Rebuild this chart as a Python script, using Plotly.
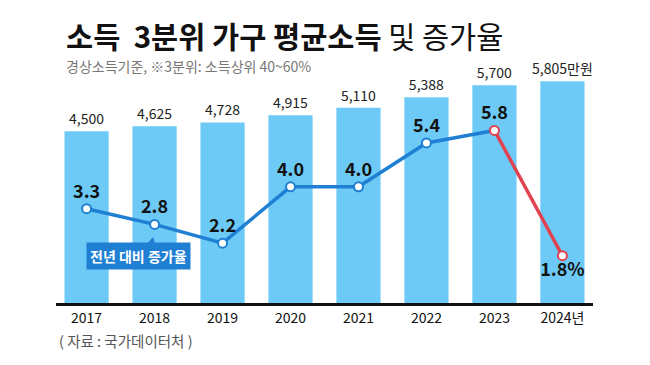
import plotly.graph_objects as go

years = ["2017", "2018", "2019", "2020", "2021", "2022", "2023", "2024"]
year_labels = ["2017", "2018", "2019", "2020", "2021", "2022", "2023", "2024년"]
income = [4500, 4625, 4728, 4915, 5110, 5388, 5700, 5805]
income_labels = ["4,500", "4,625", "4,728", "4,915", "5,110", "5,388", "5,700", "5,805만원"]
growth = [3.3, 2.8, 2.2, 4.0, 4.0, 5.4, 5.8, 1.8]
growth_labels = ["3.3", "2.8", "2.2", "4.0", "4.0", "5.4", "5.8", "1.8%"]

FONT = "Noto Sans CJK KR"
BAR = "#6dcaf6"
BLUE = "#1e7fd3"
RED = "#e0434f"

# page body has an 8px margin; work in page pixels and convert
OFF = 8
W, H = 650 - OFF, 365 - OFF
PL, PR, PT, PB = 56, 593, 75, 303  # plot area in page pixels

xs = list(range(len(years)))

fig = go.Figure()
fig.add_trace(go.Bar(
    x=xs, y=income, width=0.65, marker=dict(color=BAR, line=dict(width=0)),
    text=income_labels, textposition="outside", cliponaxis=False, constraintext="none",
    textfont=dict(family=FONT, size=14, color="#222"), hoverinfo="skip",
))
fig.add_trace(go.Scatter(
    x=xs[:7], y=growth[:7], yaxis="y2", mode="lines",
    line=dict(color=BLUE, width=3.5), hoverinfo="skip", cliponaxis=False,
))
fig.add_trace(go.Scatter(
    x=xs[6:], y=growth[6:], yaxis="y2", mode="lines",
    line=dict(color=RED, width=3.5), hoverinfo="skip", cliponaxis=False,
))
marker_colors = [BLUE] * 6 + [RED, RED]
text_pos = ["top center"] * 7 + ["bottom center"]
fig.add_trace(go.Scatter(
    x=xs, y=growth, yaxis="y2", mode="markers+text",
    marker=dict(size=9, color="white", line=dict(color=marker_colors, width=2)),
    text=growth_labels, textposition=text_pos,
    textfont=dict(family=FONT, size=18, color="#111", weight="bold"),
    hoverinfo="skip", cliponaxis=False,
))

fig.update_layout(
    width=W, height=H,
    margin=dict(l=PL - OFF, r=650 - PR, t=PT - OFF, b=365 - PB),
    paper_bgcolor="white", plot_bgcolor="white",
    showlegend=False,
    xaxis=dict(
        range=[-0.45, 7.45], tickmode="array", tickvals=xs, ticktext=year_labels,
        showline=True, linecolor="#111", linewidth=2.5, showgrid=False, zeroline=False,
        ticks="", tickfont=dict(family=FONT, size=14, color="#111"),
    ),
    yaxis=dict(range=[0, 5970], visible=False, showgrid=False, zeroline=False),
    yaxis2=dict(range=[0.29, 7.57], overlaying="y", visible=False, showgrid=False, zeroline=False),
    font=dict(family=FONT),
)

def px(xp):
    return (xp - PL) / (PR - PL)

def py(yp):
    return (PB - yp) / (PB - PT)

annotations = [
    dict(text="<b>소득&nbsp; 3분위 가구 평균소득</b> 및 증가율", xref="paper", yref="paper",
         x=px(64), y=py(35), xanchor="left", yanchor="middle",
         showarrow=False, font=dict(family=FONT, size=29.5, color="#111")),
    dict(text="경상소득기준, ※3분위: 소득상위 40~60%", xref="paper", yref="paper",
         x=px(64), y=py(66), xanchor="left", yanchor="middle",
         showarrow=False, font=dict(family=FONT, size=14, color="#777")),
    dict(text="( 자료 : 국가데이터처 )", xref="paper", yref="paper",
         x=px(57), y=py(340), xanchor="left", yanchor="middle",
         showarrow=False, font=dict(family=FONT, size=14.5, color="#555")),
    dict(text="<b>전년 대비 증가율</b>", xref="paper", yref="paper",
         x=px(138.5), y=py(256), xanchor="center", yanchor="middle",
         showarrow=False, bgcolor=BLUE, borderpad=3,
         font=dict(family=FONT, size=14, color="white")),
]
fig.update_layout(annotations=annotations)

fig.add_shape(type="path", xref="paper", yref="paper",
              path=f"M {px(145)} {py(246)} L {px(156)} {py(246)} L {px(153)} {py(237)} Z",
              fillcolor=BLUE, line=dict(width=0))

fig.write_html("out.html")
